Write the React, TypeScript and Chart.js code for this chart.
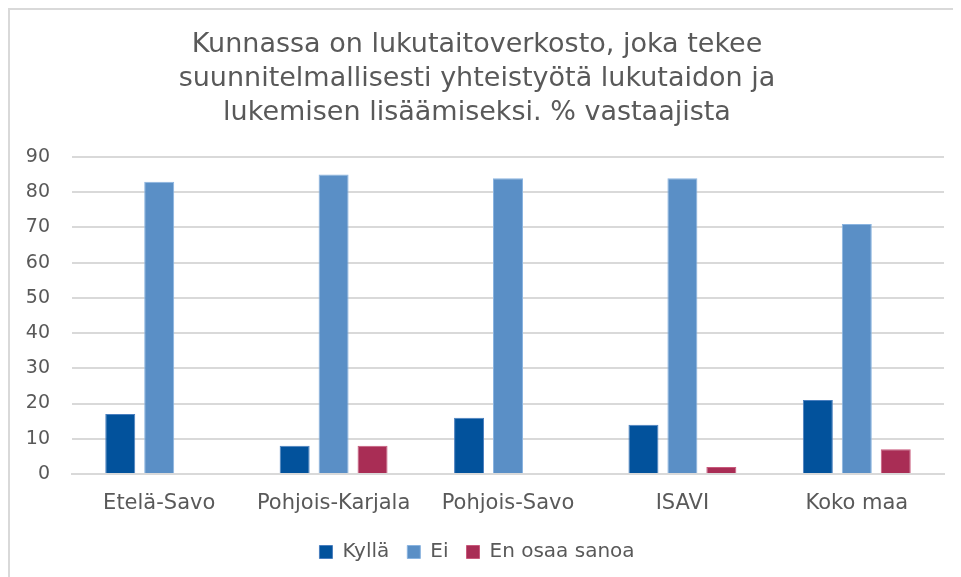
import React, { useEffect, useRef } from "react";
import { Chart, registerables } from "chart.js";

Chart.register(...registerables);

const titleLines = [
  "Kunnassa on lukutaitoverkosto, joka tekee",
  "suunnitelmallisesti yhteistyötä lukutaidon ja",
  "lukemisen lisäämiseksi. % vastaajista",
];
const categories = ["Etelä-Savo", "Pohjois-Karjala", "Pohjois-Savo", "ISAVI", "Koko maa"];
const kylla = [17, 8, 16, 14, 21];
const ei = [83, 85, 84, 84, 71];
const enOsaa = [0, 8, 0, 2, 7];
const seriesNames = ["Kyllä", "Ei", "En osaa sanoa"];
const yMin = 0;
const yMax = 90;
const yStep = 10;

export default function App() {
  const ref = useRef<HTMLCanvasElement>(null);
  useEffect(() => {
    if (!ref.current) return;
    const font = "'DejaVu Sans', Verdana, sans-serif";
    const chart = new Chart(ref.current, {
      type: "bar",
      data: {
        labels: categories,
        datasets: [
          { label: seriesNames[0], data: kylla, backgroundColor: "#02529c", borderColor: "#4a7fbf", borderWidth: 1 },
          { label: seriesNames[1], data: ei, backgroundColor: "#5a8fc6", borderColor: "#8ab4e0", borderWidth: 1 },
          { label: seriesNames[2], data: enOsaa, backgroundColor: "#a92d55", borderColor: "#c85a7c", borderWidth: 1 },
        ],
      },
      options: {
        animation: false,
        responsive: false,
        maintainAspectRatio: false,
        layout: { padding: { left: 0, right: 9, top: 0, bottom: 5 } },
        datasets: { bar: { categoryPercentage: 0.67, barPercentage: 0.77 } },
        plugins: {
          title: {
            display: true,
            text: titleLines,
            color: "#595959",
            font: { family: font, size: 27, weight: "normal", lineHeight: 34 / 27 },
            padding: { top: 18, bottom: 27 },
          },
          legend: {
            position: "bottom",
            labels: {
              color: "#595959",
              font: { family: font, size: 20 },
              boxWidth: 13,
              boxHeight: 13,
              padding: 18,
            },
          },
          tooltip: { enabled: false },
        },
        scales: {
          x: {
            grid: { display: false, drawTicks: false },
            border: { display: true, color: "#d9d9d9", width: 2 },
            afterFit: (s: any) => { s.height = 50; },
            ticks: { color: "#595959", font: { family: font, size: 21 }, padding: 17, maxRotation: 0, autoSkip: false },
          },
          y: {
            min: yMin,
            max: yMax,
            afterFit: (s: any) => { s.width = 62; },
            ticks: { stepSize: yStep, color: "#595959", font: { family: font, size: 19 }, padding: 22 },
            grid: { color: "#d9d9d9", lineWidth: 2, drawTicks: false },
            border: { display: false },
          },
        },
      },
    });
    return () => chart.destroy();
  }, []);
  return (
    <div style={{ width: 945, height: 569, borderTop: "2px solid #d9d9d9", borderLeft: "2px solid #d9d9d9", boxSizing: "border-box", background: "#fff" }}>
      <canvas ref={ref} width={943} height={567} style={{ display: "block" }} />
    </div>
  );
}
